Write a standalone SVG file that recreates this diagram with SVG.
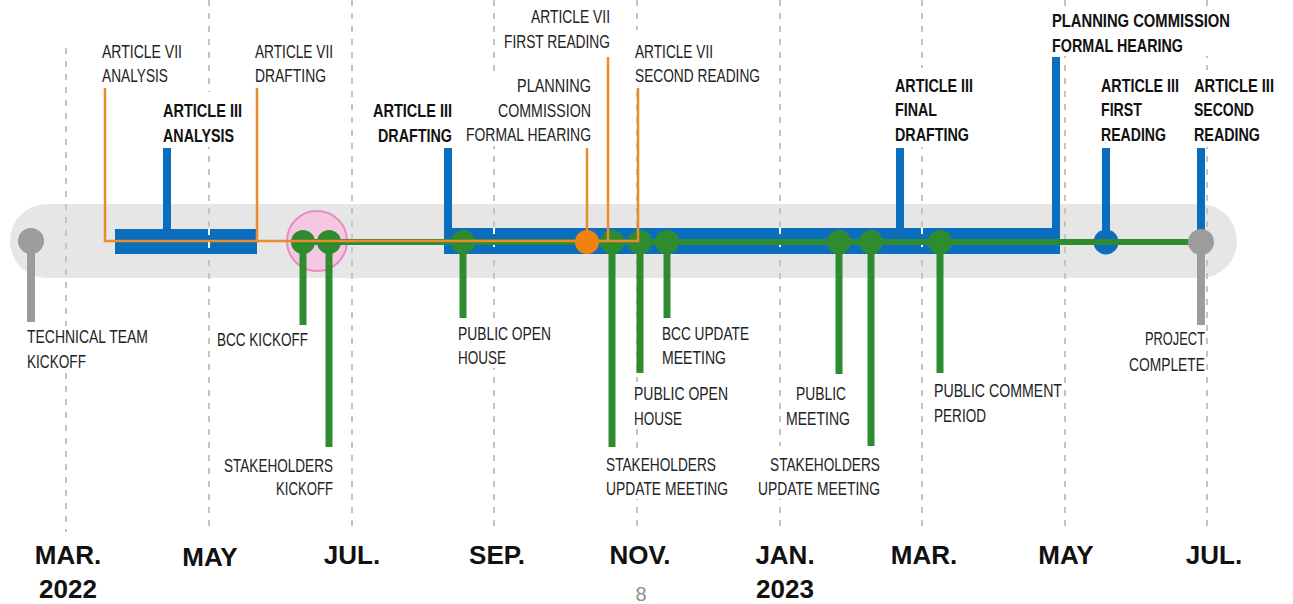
<svg xmlns="http://www.w3.org/2000/svg" width="1293" height="604" viewBox="0 0 1293 604">
<style>
.grid{stroke:#c4c4c4;stroke-width:2;stroke-dasharray:6 7;fill:none}
.gridw{stroke:#ffffff;stroke-width:2;stroke-dasharray:6 7;fill:none}
.blue{fill:#0b6dbd}
.bst{stroke:#0b6dbd;stroke-width:8;fill:none}
.gst{stroke:#2e8b2f;stroke-width:7;fill:none}
.gdot{fill:#2e8b2f}
.gray{fill:#9c9c9c}
.grst{stroke:#9c9c9c;stroke-width:8}
.org{stroke:#eb8c2a;stroke-width:2.5;fill:none}
.bg{fill:#ffffff}
text{font-family:"Liberation Sans",Arial,sans-serif}
.l{font-size:19px;fill:#222222}
.b{font-size:19px;font-weight:bold;fill:#111111}
.m{font-size:26px;font-weight:bold;fill:#111111;text-anchor:middle}
</style>
<rect width="1293" height="604" fill="#ffffff"/>
<g id="background">
<rect x="10" y="204" width="1227" height="74" rx="37" fill="#e6e6e6"/>
<line class="grid" x1="66" y1="48" x2="66" y2="532"/>
<line class="grid" x1="209" y1="0" x2="209" y2="532"/>
<line class="grid" x1="352" y1="0" x2="352" y2="532"/>
<line class="grid" x1="494" y1="0" x2="494" y2="532"/>
<line class="grid" x1="637" y1="0" x2="637" y2="532"/>
<line class="grid" x1="780" y1="0" x2="780" y2="532"/>
<line class="grid" x1="922" y1="0" x2="922" y2="532"/>
<line class="grid" x1="1065" y1="0" x2="1065" y2="532"/>
<line class="grid" x1="1207" y1="0" x2="1207" y2="532"/>
<circle cx="317" cy="241" r="30" fill="#f5c8e2" stroke="#e98cc3" stroke-width="2"/>
</g>
<g id="months">
<text class="m" x="68" y="564">MAR.</text>
<text class="m" x="68" y="598">2022</text>
<text class="m" x="210" y="566">MAY</text>
<text class="m" x="352" y="564">JUL.</text>
<text class="m" x="497" y="564">SEP.</text>
<text class="m" x="640" y="564">NOV.</text>
<text class="m" x="785" y="564">JAN.</text>
<text class="m" x="785" y="598">2023</text>
<text class="m" x="924" y="564">MAR.</text>
<text class="m" x="1066" y="564">MAY</text>
<text class="m" x="1214" y="564">JUL.</text>
<text x="641" y="601" font-size="20" fill="#8f8f8f" text-anchor="middle">8</text>
</g>
<g id="art3-analysis">
<rect class="blue" x="115" y="229" width="142" height="25"/>
<line class="bst" x1="167" y1="148" x2="167" y2="230"/>
<line class="gridw" x1="209" y1="229" x2="209" y2="254"/>
</g>
<g id="art3-drafting">
<rect class="blue" x="444" y="228" width="616" height="26"/>
<line class="bst" x1="448" y1="148" x2="448" y2="230"/>
<line class="bst" x1="900" y1="148" x2="900" y2="230"/>
<line class="bst" x1="1056" y1="57" x2="1056" y2="230"/>
<line class="gridw" x1="494" y1="228" x2="494" y2="254"/>
<line class="gridw" x1="780" y1="228" x2="780" y2="254"/>
<line class="gridw" x1="922" y1="228" x2="922" y2="254"/>
</g>
<g id="art3-first-reading">
<line class="bst" x1="1106" y1="148" x2="1106" y2="240"/>
<circle class="blue" cx="1106" cy="242" r="12.5"/>
</g>
<g id="art3-second-reading">
<line class="bst" x1="1201" y1="148" x2="1201" y2="240"/>
</g>
<g id="technical-kickoff">
<line class="grst" x1="31" y1="241" x2="31" y2="322"/>
<circle class="gray" cx="31" cy="241" r="13"/>
</g>
<g id="green-events">
<line class="gst" x1="303" y1="242" x2="303" y2="325"/>
<line class="gst" x1="329" y1="242" x2="329" y2="447"/>
<line class="gst" x1="463" y1="242" x2="463" y2="318"/>
<line class="gst" x1="612" y1="242" x2="612" y2="447"/>
<line class="gst" x1="640" y1="242" x2="640" y2="373"/>
<line class="gst" x1="667" y1="242" x2="667" y2="318"/>
<line class="gst" x1="839" y1="242" x2="839" y2="374"/>
<line class="gst" x1="871" y1="242" x2="871" y2="447"/>
<line class="gst" x1="940" y1="242" x2="940" y2="373"/>
<circle class="gdot" cx="303" cy="242" r="12"/>
<circle class="gdot" cx="329" cy="242" r="12"/>
<circle class="gdot" cx="463" cy="242" r="12"/>
<circle class="gdot" cx="612" cy="242" r="12"/>
<circle class="gdot" cx="640" cy="242" r="12"/>
<circle class="gdot" cx="667" cy="242" r="12"/>
<circle class="gdot" cx="839" cy="242" r="12"/>
<circle class="gdot" cx="871" cy="242" r="12"/>
<circle class="gdot" cx="940" cy="242" r="12"/>
</g>
<g id="connectors">
<line x1="303" y1="242" x2="1192" y2="242" stroke="#2e8b2f" stroke-width="6"/>
<path class="org" d="M105,88 V241 H257 V88"/>
<path class="org" d="M257,241 H638 V88"/>
<line class="org" x1="608" y1="57" x2="608" y2="241"/>
<line class="org" x1="587" y1="148" x2="587" y2="241"/>
</g>
<g id="pc-hearing-vii">
<circle cx="587" cy="242" r="12" fill="#f2820f"/>
</g>
<g id="project-complete">
<line class="grst" x1="1201" y1="242" x2="1201" y2="325"/>
<circle class="gray" cx="1201" cy="242" r="13"/>
</g>
<g id="labels">
<g id="lbl-art7-analysis"><rect class="bg" x="100" y="38" width="84" height="49"/>
<text class="l" x="102" y="58" textLength="80" lengthAdjust="spacingAndGlyphs">ARTICLE VII</text>
<text class="l" x="102" y="82" textLength="66" lengthAdjust="spacingAndGlyphs">ANALYSIS</text></g>
<g id="lbl-art7-drafting"><rect class="bg" x="253" y="38" width="82" height="49"/>
<text class="l" x="255" y="58" textLength="78" lengthAdjust="spacingAndGlyphs">ARTICLE VII</text>
<text class="l" x="255" y="82" textLength="71" lengthAdjust="spacingAndGlyphs">DRAFTING</text></g>
<g id="lbl-art7-first"><rect class="bg" x="502" y="4" width="110" height="49"/>
<text class="l" x="531" y="23" textLength="79" lengthAdjust="spacingAndGlyphs">ARTICLE VII</text>
<text class="l" x="504" y="48" textLength="106" lengthAdjust="spacingAndGlyphs">FIRST READING</text></g>
<g id="lbl-pc-vii"><rect class="bg" x="464" y="72" width="129" height="74"/>
<text class="l" x="517" y="92" textLength="74" lengthAdjust="spacingAndGlyphs">PLANNING</text>
<text class="l" x="498" y="117" textLength="93" lengthAdjust="spacingAndGlyphs">COMMISSION</text>
<text class="l" x="466" y="141" textLength="125" lengthAdjust="spacingAndGlyphs">FORMAL HEARING</text></g>
<g id="lbl-art7-second"><rect class="bg" x="633" y="30" width="129" height="57"/>
<text class="l" x="635" y="58" textLength="78" lengthAdjust="spacingAndGlyphs">ARTICLE VII</text>
<text class="l" x="635" y="82" textLength="125" lengthAdjust="spacingAndGlyphs">SECOND READING</text></g>
<g id="lbl-art3-analysis"><rect class="bg" x="161" y="92" width="83" height="55"/>
<text class="b" x="163" y="117" textLength="79" lengthAdjust="spacingAndGlyphs">ARTICLE III</text>
<text class="b" x="163" y="142" textLength="71" lengthAdjust="spacingAndGlyphs">ANALYSIS</text></g>
<g id="lbl-art3-drafting"><rect class="bg" x="371" y="97" width="83" height="50"/>
<text class="b" x="373" y="117" textLength="79" lengthAdjust="spacingAndGlyphs">ARTICLE III</text>
<text class="b" x="378" y="142" textLength="74" lengthAdjust="spacingAndGlyphs">DRAFTING</text></g>
<g id="lbl-pc-iii"><rect class="bg" x="1050" y="8" width="182" height="48"/>
<text class="b" x="1052" y="27" textLength="178" lengthAdjust="spacingAndGlyphs">PLANNING COMMISSION</text>
<text class="b" x="1052" y="52" textLength="131" lengthAdjust="spacingAndGlyphs">FORMAL HEARING</text></g>
<g id="lbl-art3-final"><rect class="bg" x="893" y="68" width="82" height="79"/>
<text class="b" x="895" y="92" textLength="78" lengthAdjust="spacingAndGlyphs">ARTICLE III</text>
<text class="b" x="895" y="116" textLength="42" lengthAdjust="spacingAndGlyphs">FINAL</text>
<text class="b" x="895" y="141" textLength="74" lengthAdjust="spacingAndGlyphs">DRAFTING</text></g>
<g id="lbl-art3-first"><rect class="bg" x="1099" y="72" width="82" height="74"/>
<text class="b" transform="translate(1101,92) scale(0.75,1)" textLength="104" lengthAdjust="spacingAndGlyphs">ARTICLE III</text>
<text class="b" transform="translate(1101,116) scale(0.75,1)" textLength="54.7" lengthAdjust="spacingAndGlyphs">FIRST</text>
<text class="b" transform="translate(1101,141) scale(0.75,1)" textLength="86.7" lengthAdjust="spacingAndGlyphs">READING</text></g>
<g id="lbl-art3-second"><rect class="bg" x="1192" y="70" width="84" height="77"/>
<text class="b" transform="translate(1194,92) scale(0.75,1)" textLength="106.7" lengthAdjust="spacingAndGlyphs">ARTICLE III</text>
<text class="b" transform="translate(1194,116) scale(0.75,1)" textLength="80" lengthAdjust="spacingAndGlyphs">SECOND</text>
<text class="b" transform="translate(1194,141) scale(0.75,1)" textLength="88" lengthAdjust="spacingAndGlyphs">READING</text></g>
<g id="lbl-technical"><rect class="bg" x="25" y="326" width="125" height="47"/>
<text class="l" x="27" y="343" textLength="121" lengthAdjust="spacingAndGlyphs">TECHNICAL TEAM</text>
<text class="l" x="27" y="368" textLength="59" lengthAdjust="spacingAndGlyphs">KICKOFF</text></g>
<g id="lbl-bcc-kickoff"><rect class="bg" x="215" y="329" width="95" height="22"/>
<text class="l" x="217" y="346" textLength="91" lengthAdjust="spacingAndGlyphs">BCC KICKOFF</text></g>
<g id="lbl-stake-kickoff"><rect class="bg" x="222" y="453" width="113" height="47"/>
<text class="l" x="224" y="472" textLength="109" lengthAdjust="spacingAndGlyphs">STAKEHOLDERS</text>
<text class="l" x="276" y="495" textLength="57" lengthAdjust="spacingAndGlyphs">KICKOFF</text></g>
<g id="lbl-open-house-1"><rect class="bg" x="456" y="322" width="97" height="46"/>
<text class="l" x="458" y="340" textLength="93" lengthAdjust="spacingAndGlyphs">PUBLIC OPEN</text>
<text class="l" x="458" y="364" textLength="48" lengthAdjust="spacingAndGlyphs">HOUSE</text></g>
<g id="lbl-bcc-update"><rect class="bg" x="660" y="322" width="91" height="46"/>
<text class="l" x="662" y="340" textLength="87" lengthAdjust="spacingAndGlyphs">BCC UPDATE</text>
<text class="l" x="662" y="364" textLength="64" lengthAdjust="spacingAndGlyphs">MEETING</text></g>
<g id="lbl-open-house-2"><rect class="bg" x="632" y="382" width="98" height="47"/>
<text class="l" x="634" y="400" textLength="94" lengthAdjust="spacingAndGlyphs">PUBLIC OPEN</text>
<text class="l" x="634" y="425" textLength="48" lengthAdjust="spacingAndGlyphs">HOUSE</text></g>
<g id="lbl-stake-update-1"><rect class="bg" x="604" y="452" width="126" height="47"/>
<text class="l" x="606" y="471" textLength="110" lengthAdjust="spacingAndGlyphs">STAKEHOLDERS</text>
<text class="l" x="606" y="495" textLength="122" lengthAdjust="spacingAndGlyphs">UPDATE MEETING</text></g>
<g id="lbl-public-meeting"><rect class="bg" x="784" y="382" width="68" height="47"/>
<text class="l" x="796" y="400" textLength="50" lengthAdjust="spacingAndGlyphs">PUBLIC</text>
<text class="l" x="786" y="425" textLength="64" lengthAdjust="spacingAndGlyphs">MEETING</text></g>
<g id="lbl-stake-update-2"><rect class="bg" x="756" y="446" width="126" height="53"/>
<text class="l" x="770" y="471" textLength="110" lengthAdjust="spacingAndGlyphs">STAKEHOLDERS</text>
<text class="l" x="758" y="495" textLength="122" lengthAdjust="spacingAndGlyphs">UPDATE MEETING</text></g>
<g id="lbl-comment"><rect class="bg" x="932" y="379" width="131" height="47"/>
<text class="l" x="934" y="397" textLength="128" lengthAdjust="spacingAndGlyphs">PUBLIC COMMENT</text>
<text class="l" x="934" y="422" textLength="52" lengthAdjust="spacingAndGlyphs">PERIOD</text></g>
<g id="lbl-project-complete"><rect class="bg" x="1127" y="328" width="79" height="47"/>
<text class="l" x="1145" y="345" textLength="60" lengthAdjust="spacingAndGlyphs">PROJECT</text>
<text class="l" x="1129" y="371" textLength="76" lengthAdjust="spacingAndGlyphs">COMPLETE</text></g>
</g>
</svg>
